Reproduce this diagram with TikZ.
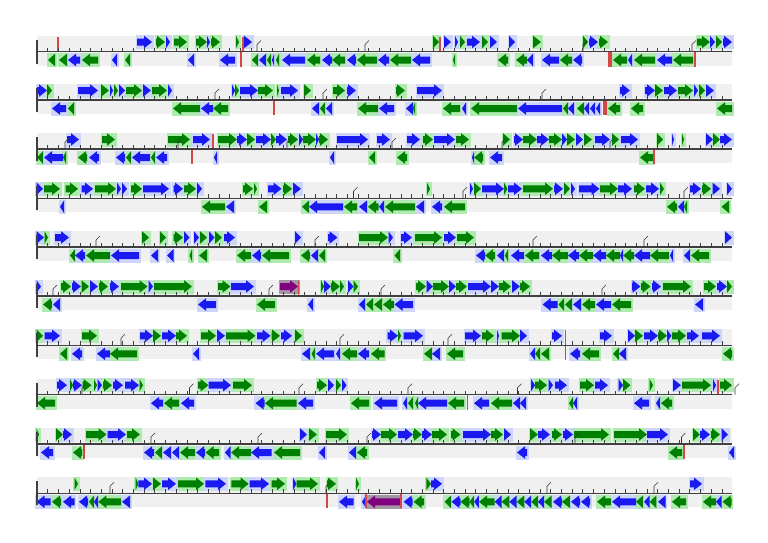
\documentclass[tikz,border=0pt]{standalone}

\definecolor{gg}{RGB}{0,128,0}
\definecolor{gs}{RGB}{175,234,175}
\definecolor{bg}{RGB}{25,25,240}
\definecolor{bs}{RGB}{205,214,250}
\definecolor{pg}{RGB}{128,0,128}
\definecolor{ps}{RGB}{165,150,165}
\definecolor{tr}{RGB}{215,70,70}

% one row: baseline y in \by, genes in \fl (forward) and \rl (reverse)
\newcommand{\row}[1]{\def\by{#1}\fill[band] (37,\by-16) rectangle (732,\by+14);}
\newcommand{\fw}[3]{%
  \pgfmathsetmacro{\hx}{max(#1,#2-8)}%
  \fill[#3g] (#1,\by-13) -- (\hx,\by-13) -- (\hx,\by-15.8) -- (#2,\by-9.5) -- (\hx,\by-3.2) -- (\hx,\by-6) -- (#1,\by-6) -- cycle;}
\newcommand{\rv}[3]{%
  \pgfmathsetmacro{\hx}{min(#2,#1+8)}%
  \fill[#3g] (#2,\by+5) -- (\hx,\by+5) -- (\hx,\by+2.2) -- (#1,\by+8.5) -- (\hx,\by+14.8) -- (\hx,\by+12) -- (#2,\by+12) -- cycle;}
\newcommand{\genes}{%
  \foreach \a/\b/\c in \fl {\fill[\c s] (\a-1.5,\by-16.5) rectangle (\b+1.5,\by-2.5);}
  \foreach \a/\b/\c in \rl {\fill[\c s] (\a-1.5,\by+1.5) rectangle (\b+1.5,\by+15.5);}
  \foreach \a/\b/\c in \fl {\fw{\a}{\b}{\c}}
  \foreach \a/\b/\c in \rl {\rv{\a}{\b}{\c}}}
\newcommand{\axis}{%
  \foreach \t in {0,...,64} {\draw[tick] (37+\t*10.7,\by) -- ++(0,-4);}
  \draw[axisline] (37,\by) -- (732,\by);
  \draw[axisline] (37,\by-12) -- (37,\by+12);}

\begin{document}
\begin{tikzpicture}[x=1pt,y=-1pt,
    band/.style={fill=black!6},
    tick/.style={draw=black!75,line width=0.6pt},
    axisline/.style={draw=black!75,line width=1.1pt},
    trna/.style={draw=tr,line width=1.3pt},
    prom/.style={draw=black!80,line width=0.6pt}]
\useasboundingbox (0,0) rectangle (768,542);

% row 1
\row{51.5}
\def\fl{137/152/b,156/165/g,166/170/b,174/187/g,196/207/g,207/210/b,211/220/g,236/239/g,243/252/b,433/439/g,444/451/b,455/458/b,460/465/g,467/480/b,482/488/g,490/497/b,509/515/b,533/541/g,583/588/g,589/598/b,599/608/g,697/710/g,710/715/b,716/722/g,723/732/b}
\def\rl{48/55/g,59/67/g,68/80/b,82/98/g,112/117/b,125/130/g,188/194/b,220/235/b,252/258/g,259/266/b,267/271/g,272/274/b,276/279/g,282/305/b,307/320/g,322/332/b,332/345/g,347/356/b,357/377/g,378/389/b,390/411/g,412/430/b,453/455/g,498/508/g,516/527/g,527/533/b,542/559/b,560/572/g,573/582/b,613/627/g,628/632/b,634/655/g,657/672/b,673/693/g}
\genes
\foreach \x in {58,243,440} {\draw[trna] (\x,\by) -- ++(0,-15);}
\foreach \x in {241,695} {\draw[trna] (\x,\by) -- ++(0,15);}
\fill[tr] (608,\by) rectangle (612,\by+15);
\foreach \x in {257,365,583,692} {\draw[prom] (\x,\by) -- ++(0,-7) -- ++(4,-4);}
\axis

% row 2
\row{100}
\def\fl{37/47/b,47/52/g,78/98/b,101/109/g,110/113/b,114/118/g,119/125/b,126/142/g,143/151/b,152/167/g,168/172/b,232/235/b,235/239/g,240/258/b,258/273/g,277/279/g,281/298/b,304/311/g,333/345/g,347/356/b,396/405/g,417/442/b,620/630/b,645/655/b,655/663/g,664/677/b,678/693/g,694/698/b,699/705/g,706/714/b}
\def\rl{52/66/b,68/74/g,173/200/g,201/213/b,213/228/g,312/319/b,320/325/g,326/332/b,358/378/g,379/394/b,406/413/b,413/415/g,443/460/g,462/466/b,471/517/g,518/562/b,563/568/g,568/574/b,577/584/g,584/589/b,590/595/b,596/600/b,608/620/g,631/643/g,717/732/g}
\genes
\foreach \x in {274} {\draw[trna] (\x,\by) -- ++(0,15);}
\fill[tr] (603,\by) rectangle (607,\by+15);
\foreach \x in {215,323,542} {\draw[prom] (\x,\by) -- ++(0,-7) -- ++(4,-4);}
\axis

% row 3
\row{149}
\def\fl{67/79/b,102/115/g,168/190/g,193/210/b,218/237/g,237/247/b,247/255/g,256/271/b,271/276/g,276/287/b,288/298/g,299/303/b,303/316/g,316/319/b,319/328/g,337/368/b,377/390/b,407/420/b,423/433/g,434/455/b,456/469/g,503/510/g,514/523/b,523/537/g,537/549/b,549/562/g,562/567/b,567/575/g,576/583/b,584/592/g,595/610/b,612/619/g,621/638/b,657/663/g,672/674/b,682/684/g,706/713/b,713/720/g,720/732/b}
\def\rl{37/43/g,44/63/b,63/66/g,78/87/g,89/99/b,116/125/b,126/131/g,132/150/b,151/155/g,156/167/b,214/217/b,330/334/b,369/375/g,397/407/g,472/474/b,474/483/g,490/502/b,640/653/g}
\genes
\foreach \x in {213} {\draw[trna] (\x,\by) -- ++(0,-15);}
\foreach \x in {192,654} {\draw[trna] (\x,\by) -- ++(0,15);}
\foreach \x in {65,178,287,392,502,610} {\draw[prom] (\x,\by) -- ++(0,-7) -- ++(4,-4);}
\axis

% row 4
\row{198.3}
\def\fl{36.5/43/b,44/60/g,65.5/78/g,81.5/93/b,95/116/g,117/121/b,122/127/b,131/142/g,143/169/b,173.5/183/b,184/196/g,197/202/b,243/253/g,254/257/g,268/281.5/b,283/292/g,293/301/b,427/430/g,470/473/b,474/481/g,482/504/b,504/507.5/g,508/522/b,523/553/g,554/563/b,564/570/g,571/575/b,579/599.5/b,600/618/g,618/632/b,634/645/g,646/659/b,660/664/g,690/701/b,702/711/g,712.5/720/b,727/732/b}
\def\rl{60/64/b,202/225/g,226/234/b,259/267/g,302/309/g,309/343/b,344/357/g,359/367/b,368/378.5/g,379/384/b,385/415/g,416/424/b,432/442/b,444/465/g,667/677/g,678/684/b,684/687/g,721.5/729/g}
\genes
\foreach \x in {353.5,463,684} {\draw[prom] (\x,\by) -- ++(0,-7) -- ++(4,-4);}
\axis

% row 5
\row{247}
\def\fl{36.5/44/b,44.6/48/g,55/69/b,142/149/g,160/166/g,173.5/183/g,184/189.5/b,194/199/b,200/207/g,209/214.5/b,215/222/g,224/235/b,295/301/b,328/337.5/b,359/388/g,388.5/393/b,401/412/b,415/442/g,444/456/b,457/474/g,725/732/b}
\def\rl{70/75/g,75/85/b,86/110/g,111/139/b,151/158/b,167/173.5/b,189.5/192/g,199/207/g,237/251/g,252/261/b,262/289/g,301/310/g,311/318/b,319/325/g,394.5/400/g,476/485/b,485/495/g,497/504/b,505/508/g,511/524/b,525/539/g,541/552/b,552/568/g,568/579/b,579/593/g,593/606/b,606/620/g,620/623/b,623/634/g,634/650/b,650/669/g,670/673/b,684/690/b,691/709/g}
\genes
\foreach \x in {96,315,533,644} {\draw[prom] (\x,\by) -- ++(0,-7) -- ++(4,-4);}
\axis

% row 6
\row{296}
\def\fl{36.5/41/b,61/71/g,72/81/b,81.5/89/g,90/98/b,99/108/g,110/119/b,121/147.5/g,148.5/153/b,154/192/g,218/230.5/g,231/254/b,280/298/p,321/324/g,324/331/b,331/340/g,340/344/g,348/353.5/b,353.5/358/g,416/426/g,426.5/433/b,433/449/g,449/456/b,456/467/g,468/491/b,491/499/b,499/511/g,512/520/b,520/530/g,632/640.5/b,641/650.5/g,652/661/b,663/691/g,704/716/g,717/727/b,727/732/g}
\def\rl{43/52/g,53/60/b,198/216/b,257/275/g,308/313/b,359/365/b,366/373/g,374/382/g,383/394/g,394.5/413/b,542.5/557.5/b,558.5/564/g,565/572/g,573/581/b,582/595/g,596/611/b,612/631/g,695/703/b}
\genes
\foreach \x in {298.5} {\draw[trna] (\x,\by) -- ++(0,-15);}
\foreach \x in {53,269,381,602} {\draw[prom] (\x,\by) -- ++(0,-7) -- ++(4,-4);}
\axis

% row 7
\row{345.3}
\def\fl{36.5/43/g,44.6/60/b,82/97/g,140/153/b,153/161/g,162/176/b,176/187/g,201/216/g,217/225/b,226/255.5/g,257/270.6/b,271.5/280/g,281/292/b,295/302/g,387.6/398/b,398/401/g,403.6/423/b,465/481/b,482/494/g,497/499/b,501.5/520/g,520/527/b,552/562/b,600/612/b,628/635/b,635/643/g,644/658/b,658/667/g,667/671.5/b,672/686/g,687/699/b,702/720/b}
\def\rl{60/67/g,72/82/b,97/110/b,110/137/g,193/199/b,302/310/b,311.6/315/g,316/334/b,336/340/b,342/357/g,358/369/b,371/384.5/g,424/432/g,432/440/b,447/463/g,530/535/b,535/540/g,541/549/g,570/580/b,582/599/g,613/619/g,619/626/b,723/732/g}
\genes
\foreach \x in {565.3} {\draw[trna] (\x,\by-15) -- (\x,\by+15);}
\foreach \x in {121,340,448} {\draw[prom] (\x,\by) -- ++(0,-7) -- ++(4,-4);}
\axis

% row 8
\row{394.7}
\def\fl{57/67/b,70/73/g,73/82/b,82.5/91.5/g,94/97/g,97.5/102/b,103/112/g,113/123/b,125/139/b,139.5/143/g,198/208.5/g,208.6/231/b,233/252/g,317/327/g,328/334/b,336/341/g,342/346.6/b,531/535/b,535/547/g,548.5/553/b,555/567/b,580/594/g,595/608/b,618.6/623/b,623/630.5/g,649.6/653/g,673/681/b,682/711/g,713/716/b,720/732/g}
\def\rl{37/55/g,151/163/b,164/179/g,181/194/b,255.5/264.6/b,265/296.5/g,298/313/b,351/369/g,374/397/b,403/407/b,408/413/g,415/418/g,418/447/b,448/464/g,474/489/b,491/512/g,513/520/b,520/526/b,569/573/g,573/577/b,634/649/b,656/660/b,661/672/g}
\genes
\foreach \x in {718} {\draw[trna] (\x,\by) -- ++(0,-15);}
\foreach \x in {467.4} {\draw[trna] (\x,\by) -- ++(0,15);}
\foreach \x in {82,189.5,299,408,517.5,735} {\draw[prom] (\x,\by) -- ++(0,-7) -- ++(4,-4);}
\axis

% row 9
\row{444}
\def\fl{36.5/39/g,56/63/g,63/72/b,86/106.5/g,107.5/126/b,127/140/g,300/307/b,309/317/g,326/347/g,372/381/b,381/397/g,398/413/b,413/422/g,422/432/b,432/447/g,451/460.5/g,463/491/b,491/503/g,504/511/b,530/538/g,538/550/b,552/562/g,563/573/b,574/609/g,614/647/g,647/668/b,693/700/g,700/710/b,711/720/g,721.6/728/b}
\def\rl{41/53/b,73/82/g,144/154/b,155/162/g,163/171/b,172/179/b,180/195/g,196/205/b,205.5/219/g,225/230.5/b,231/251/g,251/271.5/b,274/300/g,319/325/b,349/356/b,357/367/g,517/527/b,669/682/g,729/734/b}
\genes
\foreach \x in {84,684} {\draw[trna] (\x,\by) -- ++(0,15);}
\foreach \x in {151,258,367,575,681.5} {\draw[prom] (\x,\by) -- ++(0,-7) -- ++(4,-4);}
\axis

% row 10
\row{493.3}
\def\fl{74.6/78/g,135.7/138.4/g,138.4/152/b,153/161/g,162/176/b,178/204/g,205.4/226/b,231.4/248.7/g,249.6/269/b,271.5/285/g,293/296.5/b,296.5/318/g,327/336/g,356/359/g,426.4/431/g,431/442/b,690/702/b}
\def\rl{36.5/50.5/b,52/61/g,63/74.6/b,79/88/b,89/94/g,94/98/b,98.3/121/g,122/130/b,339/353.5/b,362/366/b,367/400/p,403.6/412.7/b,413.6/424/g,444.6/451/g,451.4/460.5/b,460.5/469.6/g,469.6/474/g,474.2/478.8/b,479/494.7/g,494.7/501.5/b,501.5/509.3/g,509.3/516.6/b,516.6/524.3/g,524.3/531.2/b,531.2/538/g,538/544/b,544/551.7/g,553/562/b,562/570/g,571/580/b,581/590/b,597/611/g,612/636/b,636/643/g,644/649.6/b,649.6/656.4/g,658/665.5/b,672/686/g,703/716/g,716/721.6/b,722.5/731.6/g}
\genes
\foreach \x in {327,366,401} {\draw[trna] (\x,\by) -- ++(0,15);}
\foreach \x in {110,326,547,654} {\draw[prom] (\x,\by) -- ++(0,-7) -- ++(4,-4);}
\axis
\end{tikzpicture}
\end{document}
